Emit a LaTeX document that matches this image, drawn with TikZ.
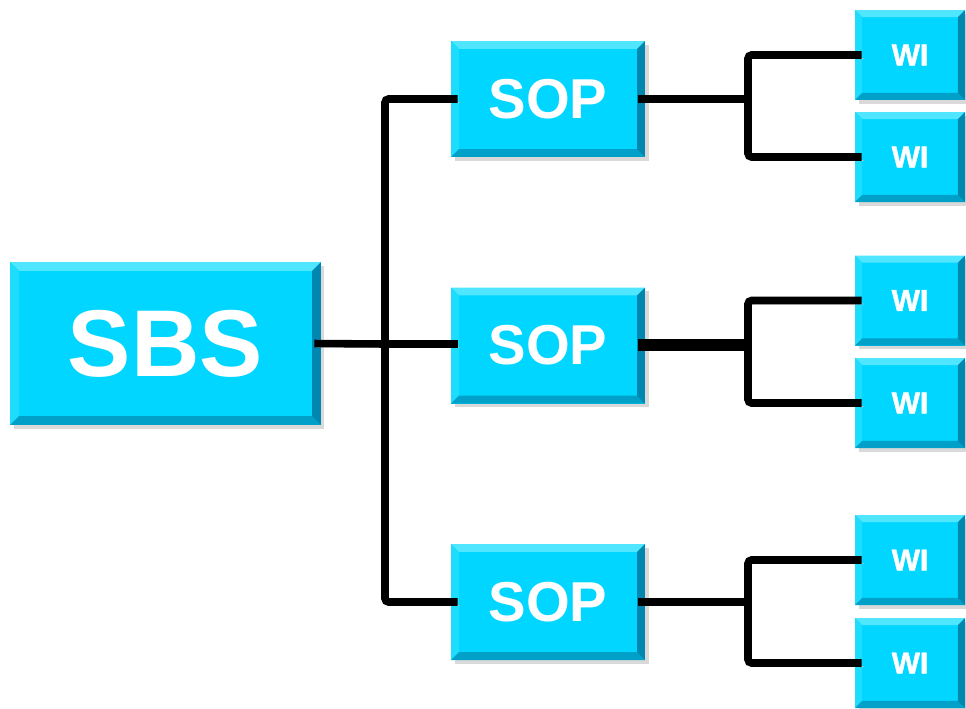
\documentclass[tikz,border=0pt]{standalone}
\usepackage{fontspec}
\setmainfont{Liberation Sans}
\newfontfamily\heavyfont[FakeBold=1.6]{Liberation Sans Bold}
\usetikzlibrary{calc}
\usetikzlibrary{shadows}

\definecolor{boxcyan}{RGB}{0,214,255}
\definecolor{bevtop}{RGB}{80,230,255}
\definecolor{bevleft}{RGB}{30,220,252}
\definecolor{bevbottom}{RGB}{0,160,200}
\definecolor{bevright}{RGB}{0,135,175}

\tikzset{
	bevel/.style={path picture={
		\coordinate (nw) at (path picture bounding box.north west);
		\coordinate (ne) at (path picture bounding box.north east);
		\coordinate (sw) at (path picture bounding box.south west);
		\coordinate (se) at (path picture bounding box.south east);
		\fill[bevtop] (nw) -- (ne) -- ([xshift=-#1,yshift=-#1]ne) -- ([xshift=#1,yshift=-#1]nw) -- cycle;
		\fill[bevleft] (nw) -- (sw) -- ([xshift=#1,yshift=#1]sw) -- ([xshift=#1,yshift=-#1]nw) -- cycle;
		\fill[bevbottom] (sw) -- (se) -- ([xshift=-#1,yshift=#1]se) -- ([xshift=#1,yshift=#1]sw) -- cycle;
		\fill[bevright] (ne) -- (se) -- ([xshift=-#1,yshift=#1]se) -- ([xshift=-#1,yshift=-#1]ne) -- cycle;
	}},
	box/.style={fill=boxcyan, text=white, inner sep=0pt, font=\bfseries,
		drop shadow={shadow xshift=2pt, shadow yshift=-2pt, opacity=0.3}},
	sbsbox/.style={box, bevel=5pt, minimum width=6.22cm, minimum height=3.26cm,
		font=\fontsize{54}{58}\selectfont\bfseries},
	sopbox/.style={box, bevel=4.5pt, minimum width=3.88cm, minimum height=2.32cm,
		font=\fontsize{32}{36}\selectfont\bfseries},
	wibox/.style={box, bevel=4pt, minimum width=2.2cm, minimum height=1.8cm,
		font=\fontsize{17}{20}\selectfont\heavyfont},
	link/.style={line width=4.3pt, rounded corners=2pt,
		preaction={draw=black!22, transform canvas={xshift=1pt,yshift=-2pt}}},
	thicklink/.style={link, line width=6.5pt}
}

\begin{document}
\begin{tikzpicture}[x=0.02cm, y=-0.02cm]
		\useasboundingbox (0,0) rectangle (966,708);
		
		% main nodes
		\node[sbsbox] (sbs) at (165.5,343.5) {SBS};
		
		\node[sopbox] (sop1) at (548,99) {SOP};
		\node[sopbox] (sop2) at (548,345.5) {SOP};
		\node[sopbox] (sop3) at (548,602) {SOP};
		
		\node[wibox] (wi1) at (910,55) {WI};
		\node[wibox] (wi2) at (910,157) {WI};
		\node[wibox] (wi3) at (910,300.5) {WI};
		\node[wibox] (wi4) at (910,403) {WI};
		\node[wibox] (wi5) at (910,560) {WI};
		\node[wibox] (wi6) at (910,663) {WI};
		
		% junctions
		\coordinate (j0) at (385,344);
		\coordinate (j1) at (748,99);
		\coordinate (j2) at (748,345);
		\coordinate (j3) at (748,602);
		
		\draw[link] ([xshift=-4pt]sbs.east) -- (j0);
		\draw[link] ([xshift=4pt]sop1.west) -| (j0) |- ([xshift=4pt]sop3.west);
		\draw[link] (j0) -- ([xshift=4pt]sop2.west |- j0);
		
		\draw[link] ([xshift=-4pt]sop1.east) -- (j1);
		\draw[link] ([xshift=4pt]wi1.west) -| (j1) |- ([xshift=4pt]wi2.west);
		
		\draw[thicklink] ([xshift=-4pt]sop2.east |- j2) -- (j2);
		\draw[link] ([xshift=4pt]wi3.west) -| (j2) |- ([xshift=4pt]wi4.west);
		
		\draw[link] ([xshift=-4pt]sop3.east) -- (j3);
		\draw[link] ([xshift=4pt]wi5.west) -| (j3) |- ([xshift=4pt]wi6.west);
		
		\end{tikzpicture}
\end{document}
